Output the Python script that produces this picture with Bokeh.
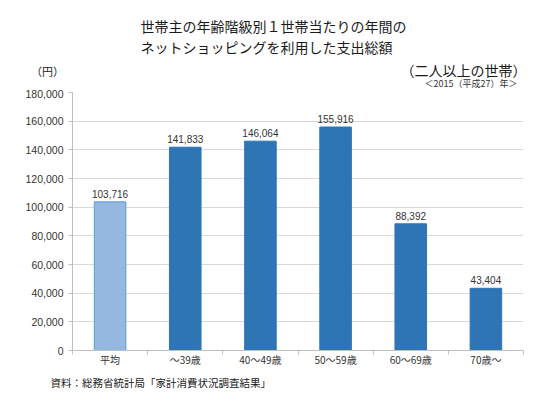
from bokeh.plotting import figure
from bokeh.layouts import column
from bokeh.models import ColumnDataSource, LabelSet, Label, FixedTicker, NumeralTickFormatter, Range1d
from bokeh.core.properties import value
from bokeh.embed import file_html
from bokeh.resources import INLINE

categories = ["平均", "～39歳", "40～49歳", "50～59歳", "60～69歳", "70歳～"]
values = [103716, 141833, 146064, 155916, 88392, 43404]
value_labels = ["103,716", "141,833", "146,064", "155,916", "88,392", "43,404"]
bar_colors = ["#95B8E0", "#2E75B6", "#2E75B6", "#2E75B6", "#2E75B6", "#2E75B6"]
line_colors = ["#5B9BD5", "#2E75B6", "#2E75B6", "#2E75B6", "#2E75B6", "#2E75B6"]
y_ticks = [0, 20000, 40000, 60000, 80000, 100000, 120000, 140000, 160000, 180000]

title1 = "世帯主の年齢階級別１世帯当たりの年間の"
title2 = "ネットショッピングを利用した支出総額"
unit_label = "（円）"
subtitle1 = "（二人以上の世帯）"
subtitle2 = "＜2015（平成27）年＞"
source_note = "資料：総務省統計局「家計消費状況調査結果」"

JP = "Noto Sans CJK JP"
W = 542
TOP_H = 89
BOT_H = 30
MAIN_H = 399 - TOP_H - BOT_H


def text_panel(h):
    f = figure(width=W, height=h, output_backend="svg", toolbar_location=None,
               x_range=Range1d(0, W), y_range=Range1d(h, 0),
               min_border=0, min_border_left=0, min_border_right=0,
               min_border_top=0, min_border_bottom=0, frame_align=False)
    f.axis.visible = False
    f.grid.grid_line_color = None
    f.outline_line_color = None
    return f


def lab(f, text, x, y, size, align="left", color="#1a1a1a", baseline="middle"):
    f.add_layout(Label(x=x, y=y, text=text, text_font=JP, text_font_size=size,
                       text_align=align, text_baseline=baseline, text_color=color))


# ---- top text panel
top = text_panel(TOP_H)
lab(top, title1, 140, 25, "14px")
lab(top, title2, 140, 46, "14px")
lab(top, unit_label, 47, 70, "11px", align="center")
lab(top, subtitle1, 526, 69, "14px", align="right")
lab(top, subtitle2, 517, 89, "9px", align="right", color="#333333", baseline="bottom")

# ---- main chart
xs = [i + 0.5 for i in range(len(categories))]
src = ColumnDataSource(dict(x=xs, top=values, fill=bar_colors, line=line_colors, lab=value_labels))

p = figure(width=W, height=MAIN_H, output_backend="svg", toolbar_location=None,
           x_range=Range1d(0, len(categories)), y_range=Range1d(0, 180000),
           min_border_left=72, min_border_right=19, min_border_top=92 - TOP_H,
           min_border_bottom=TOP_H + MAIN_H - 350, frame_align=False)
p.outline_line_color = None
p.background_fill_color = "white"

p.vbar(x="x", top="top", width=0.42, source=src, fill_color="fill", line_color="line", line_width=1)

p.add_layout(LabelSet(x="x", y="top", text="lab", source=src, text_align="center",
                      text_baseline="bottom", y_offset=4, text_font_size="10px",
                      text_color="#333333", text_font=value("Liberation Sans")))

p.xaxis.ticker = FixedTicker(ticks=xs, minor_ticks=list(range(len(categories) + 1)))
p.xaxis.major_label_overrides = {x: c for x, c in zip(xs, categories)}
p.xaxis.major_tick_line_color = None
p.xaxis.major_tick_out = 0
p.xaxis.major_tick_in = 0
p.xaxis.minor_tick_out = 4
p.xaxis.minor_tick_in = 0
p.xaxis.minor_tick_line_color = "#BFBFBF"
p.xaxis.axis_line_color = "#BFBFBF"
p.xaxis.major_label_text_font = JP
p.xaxis.major_label_text_font_size = "10px"
p.xaxis.major_label_text_color = "#333333"
p.xaxis.major_label_standoff = -3

p.yaxis.ticker = FixedTicker(ticks=y_ticks)
p.yaxis.formatter = NumeralTickFormatter(format="0,0")
p.yaxis.axis_line_color = "#BFBFBF"
p.yaxis.major_tick_line_color = "#BFBFBF"
p.yaxis.major_tick_out = 4
p.yaxis.major_tick_in = 0
p.yaxis.minor_tick_line_color = None
p.yaxis.major_label_text_font = "Liberation Sans"
p.yaxis.major_label_text_font_size = "10.5px"
p.yaxis.major_label_text_color = "#333333"
p.yaxis.major_label_standoff = 5

p.xgrid.grid_line_color = None
p.ygrid.grid_line_color = "#D9D9D9"

# ---- bottom source panel
bot = text_panel(BOT_H)
lab(bot, source_note, 50, 382 - (TOP_H + MAIN_H), "10.5px")

layout = column(top, p, bot, spacing=0)
open("out.html", "w").write(file_html(layout, INLINE))
